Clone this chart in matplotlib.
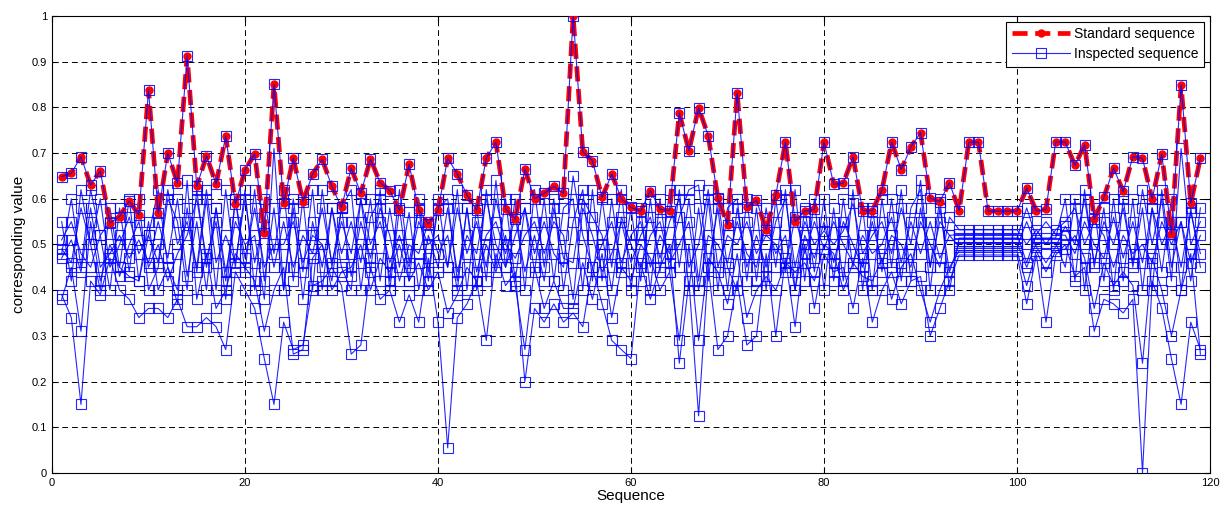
import matplotlib
matplotlib.use("Agg")
import matplotlib.pyplot as plt
import numpy as np

plt.rcParams['font.family'] = ['Liberation Sans', 'DejaVu Sans']

# Sequence positions 1..119
seq = np.arange(1, 120)

# Standard sequence
standard = [
    0.648, 0.656, 0.692, 0.630, 0.661, 0.547, 0.561, 0.595, 0.565, 0.838,
    0.568, 0.700, 0.634, 0.913, 0.627, 0.694, 0.632, 0.737, 0.588, 0.663,
    0.698, 0.526, 0.851, 0.590, 0.689, 0.594, 0.654, 0.686, 0.627, 0.581,
    0.667, 0.612, 0.687, 0.635, 0.618, 0.575, 0.675, 0.575, 0.545, 0.575,
    0.689, 0.654, 0.608, 0.575, 0.689, 0.724, 0.578, 0.556, 0.665, 0.600,
    0.612, 0.627, 0.612, 1.000, 0.703, 0.683, 0.603, 0.654, 0.600, 0.581,
    0.573, 0.618, 0.577, 0.574, 0.788, 0.705, 0.799, 0.738, 0.601, 0.543,
    0.831, 0.581, 0.597, 0.532, 0.608, 0.724, 0.550, 0.573, 0.577, 0.724,
    0.632, 0.634, 0.692, 0.574, 0.574, 0.619, 0.724, 0.664, 0.713, 0.745,
    0.601, 0.594, 0.635, 0.574, 0.724, 0.724, 0.573, 0.573, 0.573, 0.573,
    0.623, 0.573, 0.577, 0.724, 0.724, 0.673, 0.718, 0.555, 0.603, 0.667,
    0.616, 0.692, 0.689, 0.599, 0.698, 0.524, 0.849, 0.590, 0.689,
]

# Inspected sequences
insp_a = [
    0.39, 0.34, 0.15, 0.42, 0.39, 0.47, 0.40, 0.38, 0.34, 0.36,
    0.36, 0.34, 0.38, 0.32, 0.32, 0.34, 0.32, 0.27, 0.44, 0.40,
    0.36, 0.25, 0.15, 0.33, 0.27, 0.28, 0.41, 0.42, 0.45, 0.41,
    0.26, 0.28, 0.45, 0.38, 0.40, 0.33, 0.39, 0.33, 0.47, 0.33,
    0.055, 0.34, 0.37, 0.42, 0.29, 0.48, 0.41, 0.44, 0.20, 0.36,
    0.33, 0.37, 0.33, 0.35, 0.32, 0.45, 0.37, 0.29, 0.27, 0.25,
    0.46, 0.38, 0.45, 0.50, 0.24, 0.42, 0.125, 0.45, 0.27, 0.30,
    0.42, 0.28, 0.30, 0.48, 0.30, 0.47, 0.32, 0.50, 0.36, 0.48,
    0.44, 0.45, 0.36, 0.47, 0.33, 0.40, 0.44, 0.37, 0.42, 0.43,
    0.30, 0.36, 0.42, 0.477, 0.477, 0.477, 0.477, 0.477, 0.477, 0.477,
    0.37, 0.477, 0.33, 0.477, 0.50, 0.43, 0.45, 0.31, 0.38, 0.37,
    0.35, 0.38, 0.00, 0.42, 0.36, 0.25, 0.15, 0.33, 0.27,
]
insp_b = [
    0.38, 0.45, 0.31, 0.55, 0.42, 0.50, 0.45, 0.43, 0.42, 0.55,
    0.40, 0.45, 0.37, 0.64, 0.38, 0.48, 0.36, 0.40, 0.48, 0.45,
    0.42, 0.31, 0.40, 0.45, 0.26, 0.27, 0.47, 0.50, 0.40, 0.44,
    0.45, 0.50, 0.40, 0.47, 0.44, 0.50, 0.42, 0.46, 0.40, 0.44,
    0.35, 0.39, 0.45, 0.42, 0.50, 0.44, 0.52, 0.41, 0.27, 0.45,
    0.36, 0.42, 0.36, 0.36, 0.46, 0.38, 0.48, 0.34, 0.45, 0.42,
    0.50, 0.47, 0.40, 0.44, 0.29, 0.50, 0.29, 0.47, 0.44, 0.37,
    0.48, 0.34, 0.40, 0.43, 0.40, 0.46, 0.44, 0.46, 0.42, 0.50,
    0.48, 0.40, 0.46, 0.43, 0.42, 0.47, 0.38, 0.45, 0.48, 0.40,
    0.33, 0.40, 0.45, 0.486, 0.486, 0.486, 0.486, 0.486, 0.486, 0.486,
    0.41, 0.486, 0.44, 0.486, 0.49, 0.52, 0.47, 0.36, 0.46, 0.41,
    0.44, 0.41, 0.24, 0.47, 0.40, 0.30, 0.40, 0.48, 0.26,
]
insp_c = [
    0.47, 0.51, 0.44, 0.58, 0.45, 0.48, 0.52, 0.47, 0.51, 0.46,
    0.55, 0.47, 0.60, 0.43, 0.55, 0.40, 0.58, 0.44, 0.55, 0.50,
    0.52, 0.38, 0.71, 0.40, 0.58, 0.38, 0.55, 0.45, 0.58, 0.48,
    0.55, 0.46, 0.60, 0.42, 0.58, 0.45, 0.57, 0.40, 0.52, 0.45,
    0.58, 0.44, 0.52, 0.48, 0.60, 0.50, 0.45, 0.52, 0.58, 0.48,
    0.55, 0.48, 0.45, 0.65, 0.52, 0.45, 0.50, 0.55, 0.46, 0.52,
    0.55, 0.45, 0.52, 0.48, 0.56, 0.62, 0.63, 0.45, 0.58, 0.40,
    0.58, 0.45, 0.52, 0.45, 0.55, 0.60, 0.45, 0.55, 0.50, 0.53,
    0.50, 0.53, 0.59, 0.48, 0.52, 0.55, 0.48, 0.58, 0.50, 0.64,
    0.45, 0.55, 0.52, 0.495, 0.495, 0.495, 0.495, 0.495, 0.495, 0.495,
    0.55, 0.495, 0.46, 0.495, 0.54, 0.50, 0.60, 0.46, 0.55, 0.50,
    0.58, 0.46, 0.62, 0.50, 0.60, 0.42, 0.71, 0.50, 0.55,
]
insp_d = [
    0.49, 0.46, 0.58, 0.50, 0.60, 0.45, 0.50, 0.56, 0.48, 0.52,
    0.46, 0.62, 0.50, 0.55, 0.45, 0.62, 0.46, 0.52, 0.46, 0.60,
    0.46, 0.56, 0.45, 0.55, 0.45, 0.52, 0.48, 0.58, 0.46, 0.55,
    0.48, 0.60, 0.50, 0.55, 0.46, 0.52, 0.45, 0.55, 0.50, 0.52,
    0.45, 0.58, 0.48, 0.55, 0.45, 0.60, 0.50, 0.47, 0.52, 0.55,
    0.48, 0.55, 0.52, 0.38, 0.58, 0.52, 0.44, 0.48, 0.55, 0.46,
    0.52, 0.56, 0.47, 0.55, 0.60, 0.45, 0.50, 0.62, 0.45, 0.52,
    0.50, 0.55, 0.48, 0.52, 0.50, 0.45, 0.56, 0.48, 0.55, 0.49,
    0.55, 0.50, 0.46, 0.52, 0.48, 0.50, 0.56, 0.46, 0.55, 0.48,
    0.55, 0.47, 0.52, 0.522, 0.522, 0.522, 0.522, 0.522, 0.522, 0.522,
    0.46, 0.522, 0.55, 0.522, 0.52, 0.48, 0.55, 0.50, 0.47, 0.56,
    0.47, 0.55, 0.46, 0.58, 0.50, 0.55, 0.45, 0.57, 0.48,
]
insp_e = [
    0.51, 0.55, 0.48, 0.45, 0.52, 0.55, 0.43, 0.50, 0.55, 0.45,
    0.50, 0.42, 0.48, 0.52, 0.60, 0.47, 0.55, 0.38, 0.60, 0.47,
    0.58, 0.45, 0.50, 0.50, 0.55, 0.46, 0.52, 0.50, 0.42, 0.58,
    0.43, 0.55, 0.47, 0.58, 0.52, 0.42, 0.50, 0.48, 0.55, 0.48,
    0.52, 0.40, 0.58, 0.44, 0.52, 0.55, 0.48, 0.56, 0.44, 0.52,
    0.42, 0.58, 0.47, 0.46, 0.60, 0.56, 0.52, 0.40, 0.56, 0.50,
    0.45, 0.52, 0.55, 0.46, 0.50, 0.55, 0.40, 0.52, 0.50, 0.46,
    0.55, 0.48, 0.45, 0.55, 0.48, 0.52, 0.40, 0.52, 0.47, 0.55,
    0.46, 0.55, 0.50, 0.45, 0.55, 0.46, 0.52, 0.50, 0.45, 0.55,
    0.50, 0.45, 0.56, 0.532, 0.532, 0.532, 0.532, 0.532, 0.532, 0.532,
    0.50, 0.532, 0.50, 0.532, 0.55, 0.58, 0.50, 0.55, 0.52, 0.45,
    0.52, 0.48, 0.50, 0.46, 0.55, 0.50, 0.55, 0.46, 0.52,
]
insp_f = [
    0.55, 0.42, 0.62, 0.50, 0.40, 0.58, 0.45, 0.60, 0.42, 0.52,
    0.62, 0.45, 0.40, 0.58, 0.44, 0.60, 0.40, 0.62, 0.45, 0.62,
    0.40, 0.60, 0.48, 0.62, 0.42, 0.60, 0.40, 0.62, 0.45, 0.58,
    0.62, 0.40, 0.56, 0.60, 0.42, 0.62, 0.46, 0.58, 0.42, 0.60,
    0.45, 0.62, 0.40, 0.58, 0.42, 0.64, 0.45, 0.60, 0.40, 0.62,
    0.45, 0.60, 0.40, 0.55, 0.62, 0.42, 0.60, 0.45, 0.62, 0.40,
    0.58, 0.40, 0.60, 0.44, 0.62, 0.40, 0.58, 0.42, 0.60, 0.45,
    0.40, 0.60, 0.42, 0.58, 0.45, 0.62, 0.40, 0.58, 0.44, 0.60,
    0.42, 0.60, 0.45, 0.58, 0.40, 0.60, 0.45, 0.62, 0.42, 0.58,
    0.45, 0.60, 0.40, 0.514, 0.514, 0.514, 0.514, 0.514, 0.514, 0.514,
    0.58, 0.514, 0.514, 0.514, 0.60, 0.42, 0.62, 0.45, 0.58, 0.40,
    0.60, 0.45, 0.58, 0.40, 0.62, 0.45, 0.55, 0.42, 0.58,
]
insp_g = [
    0.48, 0.60, 0.45, 0.62, 0.52, 0.40, 0.58, 0.44, 0.60, 0.40,
    0.45, 0.60, 0.55, 0.40, 0.62, 0.45, 0.58, 0.42, 0.60, 0.44,
    0.62, 0.42, 0.58, 0.40, 0.60, 0.44, 0.62, 0.40, 0.58, 0.45,
    0.40, 0.60, 0.44, 0.62, 0.40, 0.58, 0.42, 0.60, 0.44, 0.58,
    0.60, 0.42, 0.58, 0.40, 0.62, 0.45, 0.60, 0.42, 0.58, 0.44,
    0.60, 0.42, 0.58, 0.60, 0.40, 0.62, 0.42, 0.60, 0.44, 0.58,
    0.42, 0.60, 0.44, 0.62, 0.45, 0.60, 0.42, 0.60, 0.40, 0.58,
    0.60, 0.42, 0.58, 0.40, 0.60, 0.44, 0.62, 0.42, 0.60, 0.40,
    0.58, 0.42, 0.62, 0.40, 0.58, 0.44, 0.60, 0.42, 0.58, 0.62,
    0.40, 0.58, 0.44, 0.504, 0.504, 0.504, 0.504, 0.504, 0.504, 0.504,
    0.45, 0.504, 0.504, 0.504, 0.45, 0.60, 0.40, 0.58, 0.42, 0.60,
    0.42, 0.60, 0.40, 0.58, 0.44, 0.60, 0.40, 0.58, 0.45,
]

inspected = [standard, insp_a, insp_b, insp_c, insp_d, insp_e, insp_f, insp_g]

fig = plt.figure(figsize=(12.24, 5.15), dpi=100)
ax = fig.add_axes([0.0425, 0.0816, 0.9461, 0.8874])

red_line, = ax.plot(seq, standard, color='red', linestyle='--', linewidth=3.4,
                    marker='o', markersize=5, markerfacecolor='red',
                    markeredgecolor='red', dashes=(3.2, 1.6), zorder=3)

blue_line = None
for k, s in enumerate(inspected):
    ln, = ax.plot(seq, s, color='blue', linewidth=0.8, marker='s',
                  markersize=6.5, markerfacecolor='none',
                  markeredgecolor='blue', markeredgewidth=0.8,
                  alpha=0.85, zorder=4 if k == 0 else 2)
    if blue_line is None:
        blue_line = ln

ax.set_xlim(0, 120)
ax.set_ylim(0, 1)
ax.set_xticks(np.arange(0, 121, 20))
ax.set_yticks(np.arange(0, 1.01, 0.1))
ax.set_yticklabels(['0', '0.1', '0.2', '0.3', '0.4', '0.5', '0.6', '0.7',
                    '0.8', '0.9', '1'])
ax.tick_params(direction='in', labelsize=8, length=4, top=True, right=True)
ax.grid(True, color='black', linestyle=(0, (6, 4)), linewidth=0.7)
for sp in ax.spines.values():
    sp.set_linewidth(0.8)

ax.set_xlabel('Sequence', fontsize=11, labelpad=1)
ax.set_ylabel('corresponding value', fontsize=11, labelpad=4)

leg = ax.legend([red_line, blue_line], ['Standard sequence', 'Inspected sequence'],
                loc='upper right', fontsize=10, frameon=True, fancybox=False,
                edgecolor='black', framealpha=1, borderpad=0.4,
                handlelength=4.2, handletextpad=0.3, labelspacing=0.45,
                borderaxespad=0.4)
leg.get_frame().set_linewidth(0.8)

fig.savefig('out.png', dpi=100)
